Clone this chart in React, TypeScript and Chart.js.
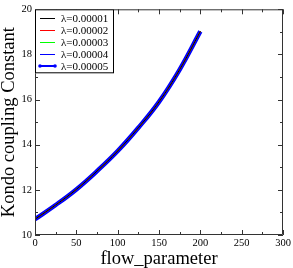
import React, { useEffect, useRef } from "react";
import { Chart, registerables } from "chart.js";

Chart.register(...registerables);

const flowParameter = [0, 25, 50, 75, 100, 125, 150, 175, 200];
const kondoL1 = [10.7, 11.33, 12.02, 12.83, 13.72, 14.75, 15.9, 17.33, 19.02];
const kondoL2 = [10.7, 11.33, 12.02, 12.83, 13.72, 14.75, 15.9, 17.33, 19.02];
const kondoL3 = [10.7, 11.33, 12.02, 12.83, 13.72, 14.75, 15.9, 17.33, 19.02];
const kondoL4 = [10.7, 11.33, 12.02, 12.83, 13.72, 14.75, 15.9, 17.33, 19.02];
const kondoL5 = [10.7, 11.33, 12.02, 12.83, 13.72, 14.75, 15.9, 17.33, 19.02];
const seriesLabels = ["λ=0.00001", "λ=0.00002", "λ=0.00003", "λ=0.00004", "λ=0.00005"];
const seriesColors = ["#000000", "#ff0000", "#00ff00", "#0000ff", "#0000ff"];
const xTicks = [0, 50, 100, 150, 200, 250, 300];
const yTicks = [10, 12, 14, 16, 18, 20];

const SERIF = "'Liberation Serif', 'DejaVu Serif', serif";

const framePlugin = {
  id: "frameTicks",
  afterDraw(chart: any) {
    const ctx = chart.ctx;
    const { left, right, top, bottom } = chart.chartArea;
    const xs = chart.scales.x;
    const ys = chart.scales.y;
    ctx.save();
    ctx.strokeStyle = "#333333";
    ctx.lineWidth = 1;
    ctx.beginPath();
    ctx.rect(left + 0.5, top + 0.5, right - left - 1, bottom - top - 1);
    ctx.stroke();
    ctx.beginPath();
    for (let v = 0; v <= 300; v += 25) {
      const px = Math.round(xs.getPixelForValue(v)) + 0.5;
      const len = v % 50 === 0 ? 5 : 3;
      ctx.moveTo(px, bottom);
      ctx.lineTo(px, bottom - len);
      ctx.moveTo(px, top);
      ctx.lineTo(px, top + len);
    }
    for (let v = 10; v <= 20; v += 1) {
      const py = Math.round(ys.getPixelForValue(v)) + 0.5;
      const len = v % 2 === 0 ? 5 : 3;
      ctx.moveTo(left, py);
      ctx.lineTo(left + len, py);
      ctx.moveTo(right, py);
      ctx.lineTo(right - len, py);
    }
    ctx.stroke();

    // legend
    const lx = left;
    const ly = top;
    const lw = 79;
    const lh = 64;
    ctx.fillStyle = "#ffffff";
    ctx.fillRect(lx, ly, lw, lh);
    ctx.strokeStyle = "#000000";
    ctx.lineWidth = 1;
    ctx.strokeRect(lx + 0.5, ly + 0.5, lw - 1, lh - 1);
    ctx.font = "11px " + SERIF;
    ctx.textBaseline = "middle";
    ctx.textAlign = "left";
    seriesLabels.forEach((lab, i) => {
      const y = ly + 9 + i * 12;
      const ry = Math.round(y);
      ctx.fillStyle = seriesColors[i];
      if (i === 4) {
        ctx.fillRect(lx + 5, ry - 1, 15, 2);
        [lx + 5, lx + 20].forEach((cx) => {
          ctx.beginPath();
          ctx.arc(cx, ry, 1.8, 0, Math.PI * 2);
          ctx.fill();
        });
      } else {
        ctx.fillRect(lx + 5, ry, 15, 1);
      }
      ctx.fillStyle = "#000000";
      ctx.fillText(lab, lx + 26, y + 0.5);
    });
    ctx.restore();
  },
};

export default function App() {
  const ref = useRef<HTMLCanvasElement>(null);
  useEffect(() => {
    const series = [kondoL1, kondoL2, kondoL3, kondoL4, kondoL5];
    const chart = new Chart(ref.current as HTMLCanvasElement, {
      type: "line",
      data: {
        datasets: series.map((arr, i) => ({
          label: seriesLabels[i],
          data: flowParameter.map((x, j) => ({ x, y: arr[j] })),
          borderColor: seriesColors[i],
          backgroundColor: seriesColors[i],
          borderWidth: i === 4 ? 4.5 : 1,
          pointRadius: 0,
          tension: 0.4,
          fill: false,
        })),
      },
      options: {
        animation: false,
        responsive: false,
        maintainAspectRatio: false,
        layout: { padding: { top: 5, right: 10, left: 0, bottom: 0 } },
        plugins: { legend: { display: false }, tooltip: { enabled: false } },
        scales: {
          x: {
            type: "linear",
            min: 0,
            max: 300,
            afterFit: (s: any) => { s.height = 33; },
            afterBuildTicks: (s: any) => { s.ticks = xTicks.map((v) => ({ value: v })); },
            grid: { display: false, drawTicks: false },
            border: { display: false },
            ticks: { padding: 2, color: "#000", font: { family: SERIF, size: 10.5 }, maxRotation: 0 },
            title: { display: true, text: "flow_parameter", color: "#000", padding: 0, font: { family: SERIF, size: 18.5, lineHeight: 1 } },
          },
          y: {
            type: "linear",
            min: 10,
            max: 20,
            afterFit: (s: any) => { s.width = 35; },
            afterBuildTicks: (s: any) => { s.ticks = yTicks.map((v) => ({ value: v })); },
            grid: { display: false, drawTicks: false },
            border: { display: false },
            ticks: { padding: 3, color: "#000", font: { family: SERIF, size: 10.5 } },
            title: { display: true, text: "Kondo coupling Constant", color: "#000", padding: 0, font: { family: SERIF, size: 18.5, lineHeight: 1 } },
          },
        },
      },
      plugins: [framePlugin],
    });
    return () => chart.destroy();
  }, []);
  return (
    <div style={{ position: "fixed", left: 0, top: 0, width: 293, height: 268, background: "#fff" }}>
      <canvas ref={ref} width={293} height={268} style={{ display: "block" }} />
    </div>
  );
}
